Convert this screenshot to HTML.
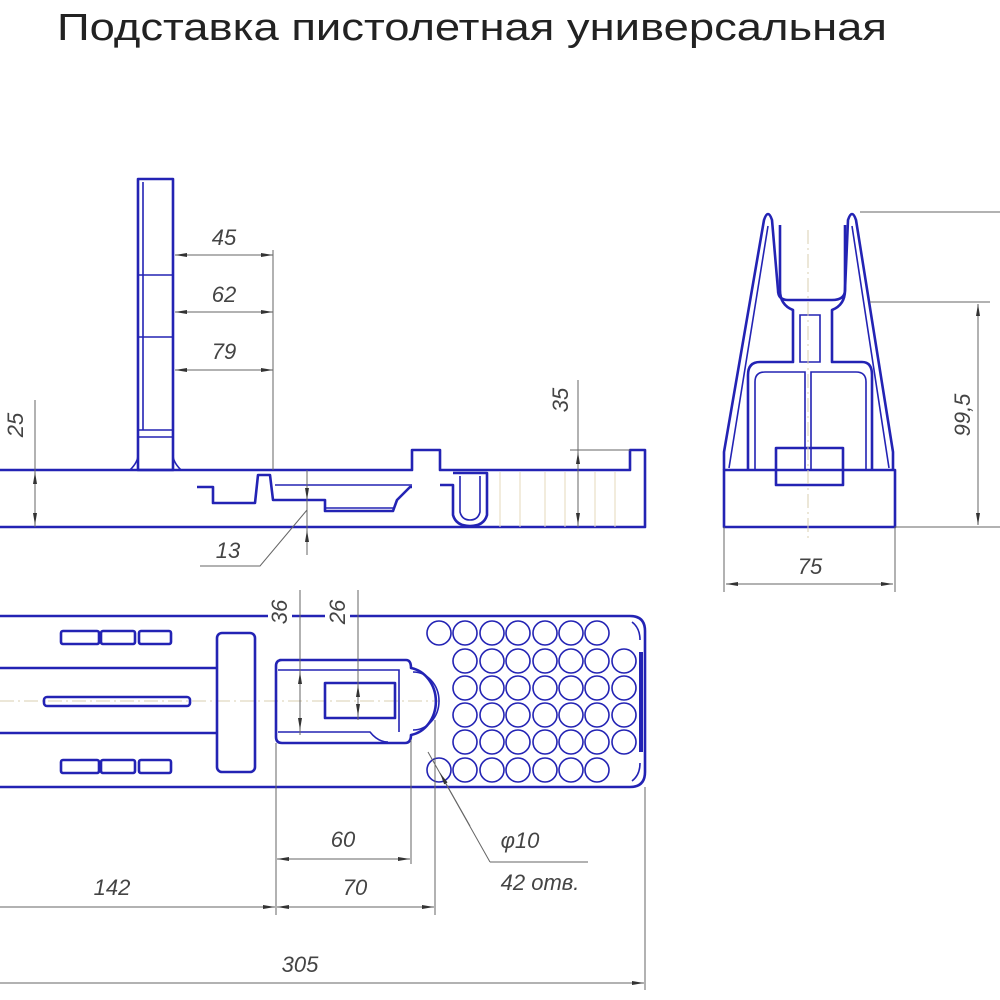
<!DOCTYPE html>
<html><head><meta charset="utf-8"><style>
html,body{margin:0;padding:0;background:#fff;width:1000px;height:1000px;overflow:hidden}
svg{display:block}
.b{fill:none;stroke:#2323b4;stroke-width:2.6;stroke-linejoin:round}
.t{fill:none;stroke:#2323b4;stroke-width:1.6}
.d{fill:none;stroke:#666;stroke-width:1}
.c{fill:none;stroke:#d8cfb0;stroke-width:1;stroke-dasharray:14 4 2 4}
.x{font-family:"Liberation Sans",sans-serif;font-style:italic;font-size:22px;fill:#444}
</style></head><body>
<svg width="1000" height="1000" viewBox="0 0 1000 1000" xmlns="http://www.w3.org/2000/svg">
<defs>
<marker id="a" viewBox="0 0 12 6" refX="12" refY="3" markerWidth="12" markerHeight="6" orient="auto-start-reverse" markerUnits="userSpaceOnUse"><path d="M0,1 L12,3 L0,5z" fill="#333"/></marker>
</defs>
<text x="57" y="40" font-family="Liberation Sans, sans-serif" font-size="38" fill="#222" textLength="830" lengthAdjust="spacingAndGlyphs">Подставка пистолетная универсальная</text>

<!-- SIDE VIEW -->
<g>
<rect class="b" x="138" y="179" width="35" height="291"/>
<line class="t" x1="143" y1="182" x2="143" y2="430"/>
<line class="t" x1="138" y1="275" x2="173" y2="275"/>
<line class="t" x1="138" y1="337" x2="173" y2="337"/>
<line class="t" x1="138" y1="430" x2="173" y2="430"/>
<line class="t" x1="138" y1="437" x2="173" y2="437"/>
<path class="t" d="M130,470 Q138,462 138,455 M181,470 Q173,462 173,455"/>
<path class="b" d="M0,470 H412 V450 H440 V470 H630 V450 H645 V527 H0"/>
<path class="b" d="M197,487 H213 V503 H255 L258,475 H270 L273,500 H325 V511 H393 L397,500 L410,487 H412"/>
<line class="t" x1="275" y1="485" x2="412" y2="485"/>
<line class="t" x1="325" y1="508" x2="393" y2="508"/>
<path class="b" d="M440,485 H453 V515 Q456,526 470,526 Q484,526 487,515 V473 H453"/>
<path class="t" d="M460,476 V512 Q462,520 470,520 Q478,520 480,512 V476"/>
<g stroke="#e4d9bb" stroke-width="1">
<line x1="500" y1="472" x2="500" y2="527"/><line x1="520" y1="472" x2="520" y2="527"/><line x1="545" y1="472" x2="545" y2="527"/><line x1="565" y1="472" x2="565" y2="527"/><line x1="595" y1="472" x2="595" y2="527"/><line x1="615" y1="472" x2="615" y2="527"/>
</g>
<line class="d" x1="273" y1="250" x2="273" y2="470"/>
<line class="d" x1="175" y1="255" x2="273" y2="255" marker-start="url(#a)" marker-end="url(#a)"/>
<line class="d" x1="175" y1="312" x2="273" y2="312" marker-start="url(#a)" marker-end="url(#a)"/>
<line class="d" x1="175" y1="370" x2="273" y2="370" marker-start="url(#a)" marker-end="url(#a)"/>
<text class="x" x="224" y="245" text-anchor="middle">45</text>
<text class="x" x="224" y="302" text-anchor="middle">62</text>
<text class="x" x="224" y="359" text-anchor="middle">79</text>
<line class="d" x1="35" y1="400" x2="35" y2="527" />
<line class="d" x1="35" y1="472" x2="35" y2="525" marker-start="url(#a)" marker-end="url(#a)"/>
<text class="x" transform="translate(23,425) rotate(-90)" text-anchor="middle">25</text>
<line class="d" x1="578" y1="380" x2="578" y2="527"/>
<line class="d" x1="570" y1="450" x2="630" y2="450"/>
<line class="d" x1="578" y1="452" x2="578" y2="525" marker-start="url(#a)" marker-end="url(#a)"/>
<text class="x" transform="translate(568,400) rotate(-90)" text-anchor="middle">35</text>
<line class="d" x1="307" y1="470" x2="307" y2="555"/>
<line class="d" x1="307" y1="485" x2="307" y2="500" marker-end="url(#a)"/>
<line class="d" x1="307" y1="550" x2="307" y2="530" marker-end="url(#a)"/>
<path class="d" d="M200,566 H260 L307,510"/>
<text class="x" x="228" y="558" text-anchor="middle">13</text>
</g>

<!-- FRONT VIEW -->
<g>
<rect class="b" x="724" y="470" width="171" height="57"/>
<path class="b" d="M724,470 V452 L764,220 Q768,208 772,220 L778,290 Q778,300 788,300 H832 Q845,300 845,290 L848,220 Q852,208 856,220 L893,452 V470"/>
<path class="t" d="M729,468 L768,226 M889,468 L852,226"/>
<path class="b" d="M780,225 V290 Q780,305 793,310 V362 H760 Q748,362 748,375 V470 M845,225 V290 Q845,305 832,310 V362 H862 Q872,362 872,375 V470"/>
<path class="t" d="M800,315 V362 H820 V315 Z"/>
<path class="t" d="M755,470 V382 Q755,372 765,372 H805 V470 M866,470 V382 Q866,372 856,372 H811 V470"/>
<rect class="b" x="776" y="448" width="67" height="37"/>
<line class="c" x1="808" y1="230" x2="808" y2="540"/>
<line class="d" x1="860" y1="212" x2="1000" y2="212"/>
<line class="d" x1="870" y1="302" x2="990" y2="302"/>
<line class="d" x1="895" y1="527" x2="1000" y2="527"/>
<line class="d" x1="978" y1="304" x2="978" y2="525" marker-start="url(#a)" marker-end="url(#a)"/>
<text class="x" transform="translate(970,415) rotate(-90)" text-anchor="middle">99,5</text>
<line class="d" x1="724" y1="527" x2="724" y2="592"/>
<line class="d" x1="895" y1="527" x2="895" y2="592"/>
<line class="d" x1="726" y1="584" x2="893" y2="584" marker-start="url(#a)" marker-end="url(#a)"/>
<text class="x" x="810" y="574" text-anchor="middle">75</text>
</g>

<!-- TOP VIEW -->
<g>
<path class="b" d="M0,616 H268 M292,616 H325 M350,616 H630 Q645,616 645,631 V772 Q645,787 630,787 H0"/>
<line class="c" x1="0" y1="701" x2="440" y2="701"/>
<path class="b" d="M0,668 H217 M0,733 H217"/>
<rect class="b" x="61" y="631" width="38" height="13" rx="2"/>
<rect class="b" x="101" y="631" width="34" height="13" rx="2"/>
<rect class="b" x="139" y="631" width="32" height="13" rx="2"/>
<rect class="b" x="61" y="760" width="38" height="13" rx="2"/>
<rect class="b" x="101" y="760" width="34" height="13" rx="2"/>
<rect class="b" x="139" y="760" width="32" height="13" rx="2"/>
<rect class="b" x="44" y="697" width="146" height="9" rx="3"/>
<rect class="b" x="217" y="633" width="38" height="139" rx="5"/>
<path class="b" d="M280,660 H406 Q411,660 411,668 A30,34 0 0 1 411,735 Q411,743 405,743 H282 Q276,743 276,737 V666 Q276,660 282,660 Z"/>
<path class="t" d="M278,670 H399 V732 M278,732 H370 Q378,742 388,742"/>
<path class="t" d="M413,672 A26,29 0 0 1 413,730"/>
<rect class="b" x="325" y="683" width="70" height="35"/>
<g class="t" stroke-width="2.2">
<circle cx="439" cy="633" r="12"/><circle cx="465" cy="633" r="12"/><circle cx="492" cy="633" r="12"/><circle cx="518" cy="633" r="12"/><circle cx="545" cy="633" r="12"/><circle cx="571" cy="633" r="12"/><circle cx="597" cy="633" r="12"/>
<circle cx="439" cy="770" r="12"/><circle cx="465" cy="770" r="12"/><circle cx="492" cy="770" r="12"/><circle cx="518" cy="770" r="12"/><circle cx="545" cy="770" r="12"/><circle cx="571" cy="770" r="12"/><circle cx="597" cy="770" r="12"/>
<circle cx="465" cy="661" r="12"/><circle cx="492" cy="661" r="12"/><circle cx="518" cy="661" r="12"/><circle cx="545" cy="661" r="12"/><circle cx="571" cy="661" r="12"/><circle cx="597" cy="661" r="12"/><circle cx="624" cy="661" r="12"/>
<circle cx="465" cy="688" r="12"/><circle cx="492" cy="688" r="12"/><circle cx="518" cy="688" r="12"/><circle cx="545" cy="688" r="12"/><circle cx="571" cy="688" r="12"/><circle cx="597" cy="688" r="12"/><circle cx="624" cy="688" r="12"/>
<circle cx="465" cy="715" r="12"/><circle cx="492" cy="715" r="12"/><circle cx="518" cy="715" r="12"/><circle cx="545" cy="715" r="12"/><circle cx="571" cy="715" r="12"/><circle cx="597" cy="715" r="12"/><circle cx="624" cy="715" r="12"/>
<circle cx="465" cy="742" r="12"/><circle cx="492" cy="742" r="12"/><circle cx="518" cy="742" r="12"/><circle cx="545" cy="742" r="12"/><circle cx="571" cy="742" r="12"/><circle cx="597" cy="742" r="12"/><circle cx="624" cy="742" r="12"/>
</g>
<path class="t" d="M632,622 Q640,628 640,640 M632,781 Q640,775 640,763"/>
<line x1="641" y1="652" x2="641" y2="752" stroke="#2323b4" stroke-width="4"/>
<line class="d" x1="300" y1="590" x2="300" y2="735"/>
<line class="d" x1="358" y1="590" x2="358" y2="720"/>
<line class="d" x1="300" y1="690" x2="300" y2="672" marker-end="url(#a)"/>
<line class="d" x1="300" y1="712" x2="300" y2="730" marker-end="url(#a)"/>
<line class="d" x1="358" y1="698" x2="358" y2="685" marker-end="url(#a)"/>
<line class="d" x1="358" y1="703" x2="358" y2="716" marker-end="url(#a)"/>
<text class="x" transform="translate(287,612) rotate(-90)" text-anchor="middle" font-size="20">36</text>
<text class="x" transform="translate(345,612) rotate(-90)" text-anchor="middle" font-size="20">26</text>
<line class="d" x1="276" y1="743" x2="276" y2="915"/>
<line class="d" x1="411" y1="740" x2="411" y2="864"/>
<line class="d" x1="435" y1="720" x2="435" y2="915"/>
<line class="d" x1="645" y1="787" x2="645" y2="990"/>
<line class="d" x1="277" y1="859" x2="410" y2="859" marker-start="url(#a)" marker-end="url(#a)"/>
<text class="x" x="343" y="847" text-anchor="middle">60</text>
<line class="d" x1="277" y1="907" x2="434" y2="907" marker-start="url(#a)" marker-end="url(#a)"/>
<text class="x" x="355" y="895" text-anchor="middle">70</text>
<line class="d" x1="0" y1="907" x2="275" y2="907" marker-end="url(#a)"/>
<text class="x" x="112" y="895" text-anchor="middle">142</text>
<line class="d" x1="0" y1="983" x2="644" y2="983" marker-end="url(#a)"/>
<text class="x" x="300" y="972" text-anchor="middle">305</text>
<path class="d" d="M490,862 L428,752 M490,862 H588"/>
<line class="d" x1="470" y1="826" x2="440" y2="773" marker-end="url(#a)"/>
<text class="x" x="520" y="848" text-anchor="middle">φ10</text>
<text class="x" x="540" y="890" text-anchor="middle">42 отв.</text>
</g>
</svg>
</body></html>
